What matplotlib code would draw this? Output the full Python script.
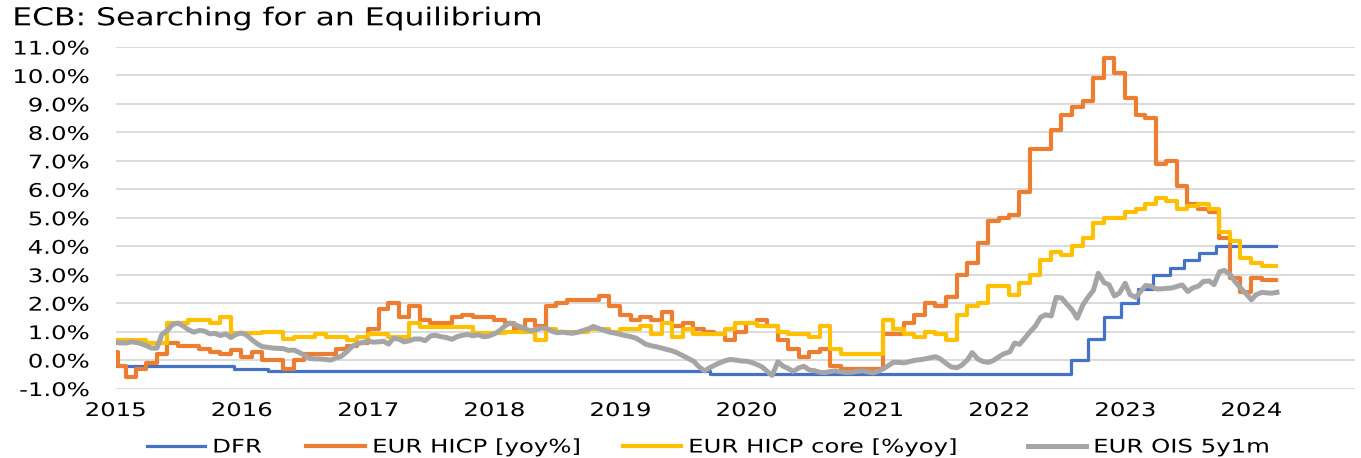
import matplotlib
matplotlib.use("Agg")
import matplotlib.pyplot as plt
import matplotlib.dates as mdates
import matplotlib.ticker as mticker
from matplotlib.patheffects import AbstractPathEffect
from matplotlib.transforms import Affine2D
import pandas as pd

# --- data -------------------------------------------------------------
# deposit facility rate: change dates and new level
dfr_dates = ["2015-01-01", "2015-12-09", "2016-03-16", "2019-09-18", "2022-07-27",
             "2022-09-14", "2022-11-02", "2022-12-21", "2023-02-08", "2023-03-22",
             "2023-05-10", "2023-06-21", "2023-08-02", "2023-09-20"]
dfr_vals = [-0.20, -0.30, -0.40, -0.50, 0.00, 0.75, 1.50, 2.00, 2.50, 3.00,
            3.25, 3.50, 3.75, 4.00]
end_date = "2024-03-12"

# HICP headline, value per reference month (shown from month end)
hicp_head_dates = ["2015-01-01", "2015-01-07"]
hicp_head = [0.3, -0.2]
hicp = [
    -0.6, -0.3, -0.1, 0.2, 0.6, 0.5, 0.5, 0.4, 0.3, 0.2, 0.35, 0.1,     # 2015
    0.3, 0.0, 0.0, -0.3, 0.0, 0.2, 0.2, 0.2, 0.4, 0.5, 0.6, 1.1,        # 2016
    1.8, 2.0, 1.5, 1.9, 1.4, 1.3, 1.3, 1.5, 1.6, 1.5, 1.5, 1.4,         # 2017
    1.3, 1.1, 1.4, 1.2, 1.9, 2.0, 2.1, 2.1, 2.1, 2.25, 1.9, 1.6,        # 2018
    1.4, 1.5, 1.4, 1.7, 1.2, 1.3, 1.1, 1.0, 0.9, 0.7, 1.0, 1.3,         # 2019
    1.4, 1.2, 0.7, 0.4, 0.1, 0.3, 0.4, -0.2, -0.3, -0.3, -0.3, -0.3,    # 2020
    0.9, 0.9, 1.3, 1.6, 2.0, 1.9, 2.2, 3.0, 3.4, 4.1, 4.9, 5.0,         # 2021
    5.1, 5.9, 7.4, 7.4, 8.1, 8.6, 8.9, 9.1, 9.9, 10.6, 10.1, 9.2,       # 2022
    8.6, 8.5, 6.9, 7.0, 6.1, 5.5, 5.3, 5.2, 4.3, 2.9, 2.4, 2.9,         # 2023
    2.8, 2.8,                                                           # 2024
]

# HICP core
core_head_dates = ["2015-01-01"]
core_head = [0.7]
core = [
    0.7, 0.7, 0.6, 0.6, 1.3, 1.3, 1.4, 1.4, 1.3, 1.5, 0.95, 0.95,       # 2015
    0.95, 1.0, 1.0, 0.75, 0.8, 0.8, 0.9, 0.8, 0.8, 0.7, 0.8, 0.9,       # 2016
    0.9, 0.8, 0.8, 1.3, 1.15, 1.15, 1.15, 1.15, 1.15, 0.95, 0.95, 0.95, # 2017
    1.0, 1.0, 1.0, 0.7, 1.1, 1.0, 1.0, 1.0, 1.1, 1.1, 1.0, 1.1,         # 2018
    1.1, 1.2, 0.9, 1.3, 0.8, 1.1, 0.9, 0.9, 0.9, 1.1, 1.3, 1.3,         # 2019
    1.2, 1.2, 1.0, 0.9, 0.9, 0.8, 1.2, 0.4, 0.2, 0.2, 0.2, 0.2,         # 2020
    1.4, 1.1, 0.9, 0.8, 1.0, 0.9, 0.7, 1.6, 1.9, 2.0, 2.6, 2.6,         # 2021
    2.3, 2.7, 3.0, 3.5, 3.8, 3.7, 4.0, 4.3, 4.8, 5.0, 5.0, 5.2,         # 2022
    5.3, 5.5, 5.7, 5.6, 5.3, 5.4, 5.5, 5.3, 4.5, 4.2, 3.6, 3.4,         # 2023
    3.3, 3.3,                                                           # 2024
]

# EUR OIS 5y1m, 1st and 15th of each month
ois = [
    # 2015
    0.62, 0.60, 0.60, 0.64, 0.62, 0.58, 0.50, 0.42, 0.42, 0.90, 1.05, 1.25,
    1.30, 1.20, 1.06, 0.98, 1.04, 1.02, 0.92, 0.94, 0.86, 0.92, 0.79, 0.90,
    # 2016
    0.95, 0.88, 0.70, 0.57, 0.47, 0.45, 0.42, 0.41, 0.40, 0.34, 0.35, 0.27,
    0.17, 0.06, 0.04, 0.04, 0.02, 0.00, 0.08, 0.13, 0.30, 0.47, 0.58, 0.61,
    # 2017
    0.67, 0.63, 0.64, 0.66, 0.56, 0.76, 0.73, 0.64, 0.68, 0.74, 0.74, 0.68,
    0.85, 0.87, 0.82, 0.79, 0.73, 0.82, 0.87, 0.90, 0.85, 0.89, 0.82, 0.84,
    # 2018
    0.92, 1.02, 1.20, 1.30, 1.25, 1.18, 1.10, 1.03, 1.06, 1.12, 1.12, 1.02,
    0.96, 0.98, 0.96, 0.94, 0.98, 1.04, 1.10, 1.18, 1.10, 1.04, 0.98, 0.95,
    # 2019
    0.90, 0.86, 0.82, 0.77, 0.67, 0.56, 0.50, 0.47, 0.42, 0.38, 0.32, 0.25,
    0.15, 0.06, -0.04, -0.22, -0.38, -0.28, -0.18, -0.10, -0.02, 0.02, 0.00, -0.03,
    # 2020
    -0.04, -0.08, -0.16, -0.24, -0.40, -0.54, -0.06, -0.21, -0.30, -0.40, -0.27, -0.22,
    -0.35, -0.37, -0.43, -0.44, -0.40, -0.38, -0.41, -0.44, -0.43, -0.40, -0.38, -0.41,
    # 2021
    -0.45, -0.40, -0.30, -0.19, -0.08, -0.08, -0.10, -0.06, -0.01, 0.01, 0.04, 0.08,
    0.12, 0.04, -0.12, -0.24, -0.27, -0.18, 0.00, 0.26, 0.03, -0.05, -0.08, -0.02,
    # 2022
    0.12, 0.22, 0.29, 0.60, 0.55, 0.75, 1.00, 1.18, 1.50, 1.59, 1.55, 2.20,
    2.18, 1.98, 1.75, 1.47, 1.95, 2.20, 2.45, 3.05, 2.72, 2.65, 2.25, 2.35,
    # 2023
    2.70, 2.30, 2.20, 2.42, 2.62, 2.60, 2.50, 2.50, 2.52, 2.53, 2.59, 2.64,
    2.41, 2.53, 2.60, 2.76, 2.78, 2.65, 3.10, 3.15, 3.00, 2.75, 2.53, 2.35,
    # 2024
    2.12, 2.30, 2.38, 2.36, 2.35, 2.38,
]

series_labels = ["DFR", "EUR HICP [yoy%]", "EUR HICP core [%yoy]", "EUR OIS 5y1m"]
colors = ["#4472C4", "#ED7D31", "#FFC000", "#A5A5A5"]


class Stretch(AbstractPathEffect):
    """widen glyphs horizontally (the source font is wider than DejaVu)"""

    def __init__(self, sx, anchor="left"):
        super().__init__()
        self.sx = sx
        self.anchor = anchor

    def draw_path(self, renderer, gc, tpath, affine, rgbFace=None):
        ext = tpath.get_extents()
        if self.anchor == "right":
            x0 = ext.x1
        elif self.anchor == "center":
            x0 = (ext.x0 + ext.x1) / 2
        else:
            x0 = 0
        t = Affine2D().translate(-x0, 0).scale(self.sx, 1).translate(x0, 0) + affine
        renderer.draw_path(gc, tpath, t, rgbFace)


# --- build date axes --------------------------------------------------
month_ends = pd.date_range("2015-01-31", "2024-02-29", freq="ME")
ois_dates = pd.date_range("2015-01-01", "2024-03-15", freq="SMS")

dfr_x = pd.to_datetime(dfr_dates + [end_date])
dfr_y = dfr_vals + [dfr_vals[-1]]
hicp_x = pd.to_datetime(hicp_head_dates).append(month_ends).append(pd.to_datetime([end_date]))
hicp_y = hicp_head + hicp + [hicp[-1]]
core_x = pd.to_datetime(core_head_dates).append(month_ends).append(pd.to_datetime([end_date]))
core_y = core_head + core + [core[-1]]

# --- plot -------------------------------------------------------------
SX = 1.3
FS = 13.5

fig = plt.figure(figsize=(13.61, 4.58), dpi=100)
ax = fig.add_axes([0.0849, 0.1517, 0.9107, 0.7457])

l1, = ax.plot(dfr_x, dfr_y, drawstyle="steps-post", color=colors[0], lw=2.3)
l2, = ax.plot(hicp_x, hicp_y, drawstyle="steps-post", color=colors[1], lw=3.0)
l3, = ax.plot(core_x, core_y, drawstyle="steps-post", color=colors[2], lw=3.0)
l4, = ax.plot(ois_dates, ois, color=colors[3], lw=3.6)

ax.set_ylim(-1, 11)
ax.set_xlim(pd.Timestamp("2015-01-01"), pd.Timestamp("2024-10-27"))
ax.yaxis.set_major_locator(mticker.MultipleLocator(1))
ax.yaxis.set_major_formatter(mticker.FuncFormatter(lambda v, p: f"{v:.1f}%"))
ax.xaxis.set_major_locator(mdates.YearLocator())
ax.xaxis.set_major_formatter(mdates.DateFormatter("%Y"))

ax.grid(axis="y", color="#D9D9D9", lw=1.3)
ax.set_axisbelow(True)
for s in ax.spines.values():
    s.set_visible(False)
ax.tick_params(axis="y", length=0, pad=19, labelsize=FS)
ax.tick_params(axis="x", length=0, pad=9, labelsize=FS)

fig.text(0.009, 0.96, "ECB: Searching for an Equilibrium", fontsize=17.8,
         va="center", ha="left", path_effects=[Stretch(1.27)])

# one small legend per series so each entry sits where the original has it
text_starts = [0.1558, 0.2733, 0.5055, 0.8031]
for line, lab, xs in zip([l1, l2, l3, l4], series_labels, text_starts):
    leg = fig.legend([line], [lab], loc="center left", frameon=False, fontsize=FS,
                     bbox_to_anchor=(xs - 0.0481, 0.024), borderpad=0, borderaxespad=0,
                     handlelength=3.1, handletextpad=0.4)
    for t in leg.get_texts():
        t.set_path_effects([Stretch(SX)])

fig.canvas.draw()
for lbl in ax.get_yticklabels():
    lbl.set_path_effects([Stretch(SX, "right")])
for lbl in ax.get_xticklabels():
    lbl.set_path_effects([Stretch(SX, "center")])

fig.savefig("out.png", dpi=100)
